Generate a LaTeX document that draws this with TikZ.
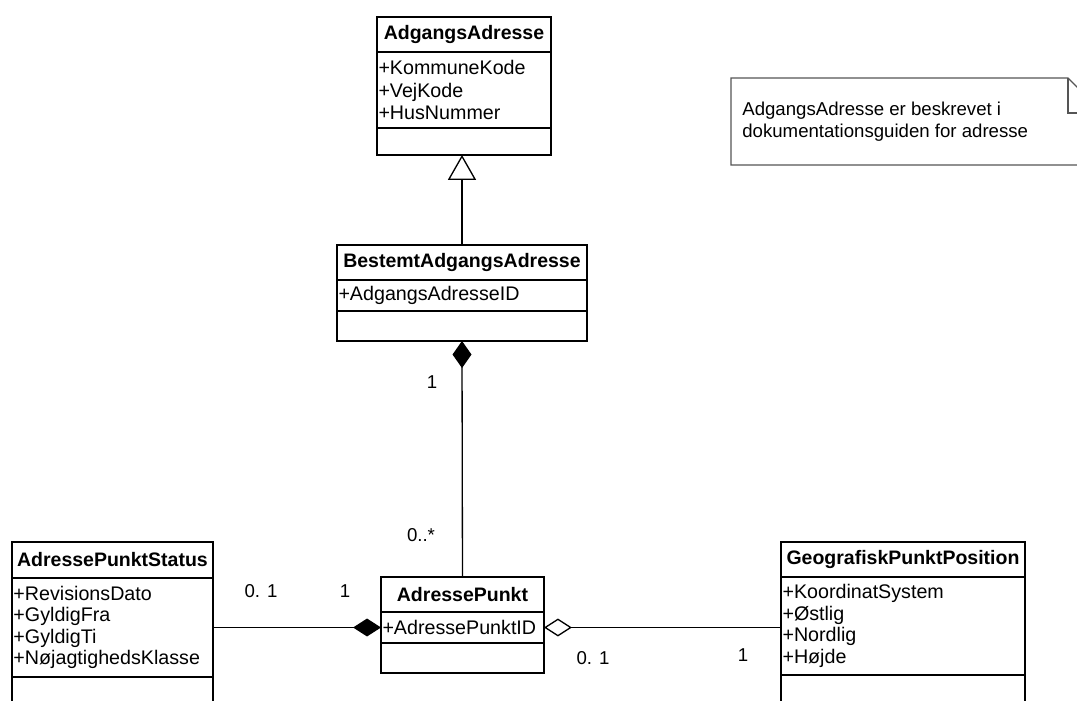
\documentclass[tikz,border=0pt]{standalone}
\usepackage{fontspec}
\setmainfont{Liberation Sans}
\usetikzlibrary{arrows.meta}
\definecolor{noteline}{HTML}{555555}

\tikzset{
  cls/.style={draw, line width=1.1pt, inner sep=0pt, outer sep=0pt, anchor=north west},
  clsname/.style={cls, font=\fontsize{11.1}{13}\selectfont\bfseries},
  clsattr/.style={cls, font=\fontsize{11.2}{12.2}\selectfont, align=left, inner xsep=0.03cm},
  mult/.style={font=\fontsize{10.6}{12}\selectfont},
  link/.style={line width=0.75pt},
}

\begin{document}
\begin{tikzpicture}[x=0.02cm,y=-0.02cm]
\clip (0,0) rectangle (1077,700);

% AdgangsAdresse
\node[clsname, minimum width=3.48cm, minimum height=0.70cm] (aa) at (377,17) {AdgangsAdresse};
\node[clsattr, text width=3.42cm, minimum height=1.52cm, font=\fontsize{11.2}{12.6}\selectfont] (aa-attr) at (aa.south west) {+KommuneKode\\+VejKode\\+HusNummer};
\node[cls, minimum width=3.48cm, minimum height=0.54cm] (aa-ops) at (aa-attr.south west) {};

% BestemtAdgangsAdresse
\node[clsname, minimum width=5.00cm, minimum height=0.70cm] (baa) at (337,245) {BestemtAdgangsAdresse};
\node[clsattr, text width=4.94cm, minimum height=0.62cm] (baa-attr) at (baa.south west) {+AdgangsAdresseID};
\node[cls, minimum width=5.00cm, minimum height=0.60cm] (baa-ops) at (baa-attr.south west) {};

% AdressePunkt
\node[clsname, minimum width=3.26cm, minimum height=0.70cm] (ap) at (381,577) {AdressePunkt};
\node[clsattr, text width=3.20cm, minimum height=0.62cm] (ap-attr) at (ap.south west) {+AdressePunktID};
\node[cls, minimum width=3.26cm, minimum height=0.60cm] (ap-ops) at (ap-attr.south west) {};

% AdressePunktStatus
\node[clsname, minimum width=4.02cm, minimum height=0.72cm] (aps) at (12,542) {AdressePunktStatus};
\node[clsattr, text width=3.96cm, minimum height=1.98cm] (aps-attr) at (aps.south west) {+RevisionsDato\\+GyldigFra\\+GyldigTi\\+NøjagtighedsKlasse};
\node[cls, minimum width=4.02cm, minimum height=1.00cm] (aps-ops) at (aps-attr.south west) {};

% GeografiskPunktPosition
\node[clsname, minimum width=4.88cm, minimum height=0.70cm] (gpp) at (781,542) {GeografiskPunktPosition};
\node[clsattr, text width=4.82cm, minimum height=1.96cm] (gpp-attr) at (gpp.south west) {+KoordinatSystem\\+Østlig\\+Nordlig\\+Højde};
\node[cls, minimum width=4.88cm, minimum height=1.00cm] (gpp-ops) at (gpp-attr.south west) {};

% note
\draw[noteline, line width=0.7pt] (731,78) -- (1068,78) -- (1103,113) -- (1103,165) -- (731,165) -- cycle;
\draw[noteline, line width=0.7pt] (1068,78) -- (1068,113) -- (1103,113);
\node[anchor=north west, align=left, inner sep=0pt, font=\fontsize{10.6}{12.2}\selectfont] (note) at (742,102)
  {AdgangsAdresse er beskrevet i\\dokumentationsguiden for adresse};

% connectors
\draw[link, -{Triangle[open, length=14.2pt, width=16pt, fill=white]}] (baa.north) -- (baa.north |- aa-ops.south);
\draw[link, {Diamond[length=15.4pt, width=10.8pt]}-] (baa-ops.south) -- (ap.north);
\draw[link, {Diamond[length=15.9pt, width=10.2pt]}-] (ap-attr.west) -- (ap-attr.west -| aps-attr.east);
\draw[link, {Diamond[open, length=15.9pt, width=10.2pt, fill=white]}-] (ap-attr.east) -- (ap-attr.east -| gpp-attr.west);

% multiplicities
\node[mult] (m-baa) at (432,382) {1};
\node[mult] (m-ap-up) at (421,535) {0..*};
\node[mult] (m-aps) at (261,591) {0. 1};
\node[mult] (m-ap-left) at (345,591) {1};
\node[mult] (m-ap-right) at (593,658) {0. 1};
\node[mult] (m-gpp) at (743,655) {1};
\end{tikzpicture}
\end{document}
